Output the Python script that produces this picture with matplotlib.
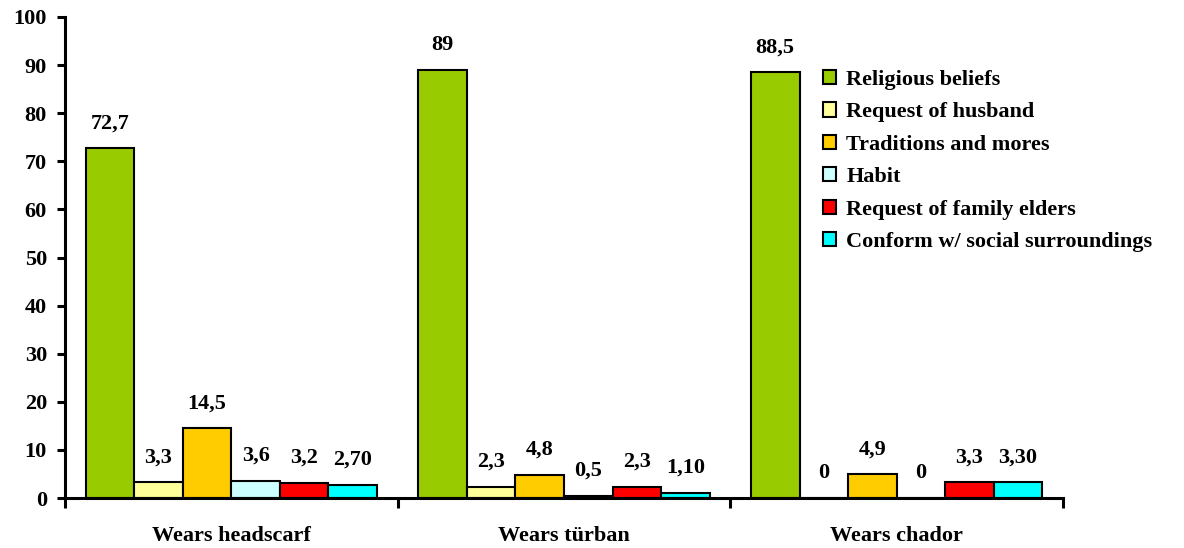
import numpy as np
import matplotlib.pyplot as plt

groups = ['Wears headscarf', 'Wears türban', 'Wears chador']
reasons = ['Religious beliefs', 'Request of husband', 'Traditions and mores',
           'Habit', 'Request of family elders', 'Conform w/ social surroundings']
colors = ['#99CC00', '#FFFF99', '#FFCC00', '#CCFFFF', '#FF0000', '#00FFFF']

religious = [72.7, 89, 88.5]
husband = [3.3, 2.3, 0]
traditions = [14.5, 4.8, 4.9]
habit = [3.6, 0.5, 0]
elders = [3.2, 2.3, 3.3]
conform = [2.70, 1.10, 3.30]
series = [religious, husband, traditions, habit, elders, conform]
# the last series was reported with two decimals
label_fmt = ['{:g}'] * 5 + ['{:.2f}']

plt.rcParams['font.family'] = ['Liberation Serif', 'DejaVu Serif']
plt.rcParams['font.weight'] = 'bold'
FS = 16

fig = plt.figure(figsize=(11.84, 5.48), dpi=100)
ax = fig.add_axes([0.0549, 0.0912, 0.8429, 0.8778])

x = np.arange(len(groups))
w = 0.146
for i, (vals, col, name) in enumerate(zip(series, colors, reasons)):
    pos = x + (i - 2.5) * w
    ax.bar(pos, vals, width=w, color=col, edgecolor='black', linewidth=1.5, label=name)
    for px, v in zip(pos, vals):
        ax.annotate(label_fmt[i].format(v).replace('.', ','), (px, v),
                    xytext=(0, 18), textcoords='offset points',
                    ha='center', va='center', fontsize=FS, fontweight='bold')

ax.set_xlim(-0.5, 2.5)
ax.set_ylim(0, 100)
ax.set_yticks(range(0, 101, 10))
ax.set_xticks(x)
ax.set_xticklabels(groups, fontsize=FS, fontweight='bold')
ax.set_xticks([-0.5, 0.5, 1.5, 2.5], minor=True)
ax.tick_params(axis='x', which='major', length=0, pad=20)
ax.tick_params(axis='x', which='minor', length=7, width=2.2, direction='out')
ax.tick_params(axis='y', length=6, width=2.2, direction='out', labelsize=FS, pad=7)
for lab in ax.get_yticklabels():
    lab.set_fontweight('bold')

for s in ['top', 'right']:
    ax.spines[s].set_visible(False)
for s in ['left', 'bottom']:
    ax.spines[s].set_linewidth(2.2)

ax.legend(loc='upper left', bbox_to_anchor=(0.68, 0.905), bbox_transform=fig.transFigure,
          frameon=False, handlelength=0.6, handleheight=0.6,
          handletextpad=0.45, labelspacing=0.56, borderpad=0.3,
          prop={'weight': 'bold', 'size': FS})

fig.savefig('out.png', dpi=100)
